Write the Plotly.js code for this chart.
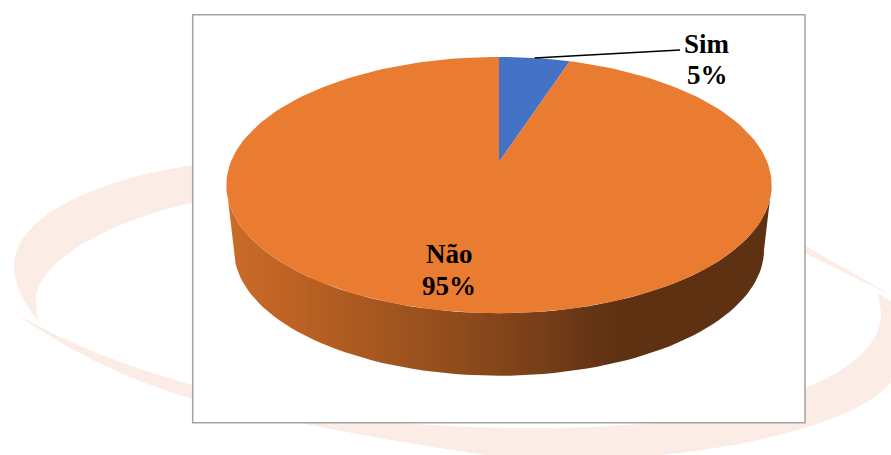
<!DOCTYPE html>
<html>
<head>
<meta charset="utf-8">
<script src="https://cdn.plot.ly/plotly-3.0.1.min.js"></script>
<style>html,body{margin:0;padding:0;background:#fff}#chart{width:891px;height:455px}</style>
</head>
<body>
<div id="chart"></div>
<script>
// Data
const categories = ['Sim', 'Não'];
const values = [5, 95];
const sliceColors = ['#4472c4', '#ea7c31'];

// Pie projection settings (pixel-space axes; perspective like the tilted 3D pie)
const TILT = 0.18;
const topFace = {cx: 499, cy: 162, sx: 268.2, sy: 124};
const bottomFace = {cx: 499, cy: 227, sx: 260.7, sy: 122};

function project(face, deg) {
  const t = deg * Math.PI / 180, X = Math.sin(t), Y = Math.cos(t), d = 1 + TILT * Y;
  return [face.cx + face.sx * X / d, face.cy - face.sy * Y / d];
}
function arc(face, from, to) {
  const pts = [], n = Math.max(2, Math.ceil(Math.abs(to - from) / 2));
  for (let i = 0; i <= n; i++) pts.push(project(face, from + (to - from) * i / n));
  return pts;
}

const total = values.reduce((a, b) => a + b, 0);
const traces = [];

// Visible side wall
const edge = Math.acos(-TILT) * 180 / Math.PI;
const side = arc(topFace, edge, 360 - edge).concat(arc(bottomFace, 360 - edge, edge));
side.push(side[0]);
traces.push({
  x: side.map(p => p[0]), y: side.map(p => p[1]),
  mode: 'lines', line: {width: 0}, fill: 'toself',
  fillgradient: {type: 'horizontal', colorscale: [
    [0, '#cb6d29'], [0.12, '#bd6224'], [0.3, '#a2561f'], [0.5, '#84451a'],
    [0.68, '#643416'], [0.72, '#5e3113'], [1, '#5e3113']]},
  hoverinfo: 'skip', showlegend: false
});

// Top-face slices, clockwise from 12 o'clock
let start = 0;
const mids = [];
values.forEach((v, i) => {
  const end = start + v / total * 360;
  const pts = [[topFace.cx, topFace.cy]].concat(arc(topFace, start, end));
  pts.push(pts[0]);
  traces.push({
    x: pts.map(p => p[0]), y: pts.map(p => p[1]), name: categories[i],
    mode: 'lines', line: {width: 0}, fill: 'toself', fillcolor: sliceColors[i],
    hoverinfo: 'skip', showlegend: false
  });
  mids.push((start + end) / 2);
  start = end;
});

// Leader line from the Sim slice to its label
const anchor = project(topFace, mids[0]);
traces.push({
  x: [anchor[0], 680], y: [anchor[1], 50],
  mode: 'lines', line: {color: '#000', width: 1.4},
  hoverinfo: 'skip', showlegend: false
});

// Labels
const labelPos = [{x: 707, y1: 43.5, y2: 74.5}, {x: 449, y1: 254, y2: 285.5}];
const labelFont = {family: '"Liberation Serif", "Times New Roman", serif', size: 27, color: '#000'};
const annotations = [];
categories.forEach((c, i) => {
  annotations.push({x: labelPos[i].x, y: labelPos[i].y1, text: '<b>' + c + '</b>', showarrow: false, font: labelFont, xref: 'x', yref: 'y'});
  annotations.push({x: labelPos[i].x, y: labelPos[i].y2, text: '<b>' + values[i] + '%</b>', showarrow: false, font: labelFont, xref: 'x', yref: 'y'});
});

// Background swoosh and chart frame
const swoosh = '#fcece6';
const shapes = [
  {type: 'path', layer: 'below', fillcolor: swoosh, line: {width: 0},
   path: 'M 200,164 C 100,178 14,215 14,267 C 14,285 25,305 38,320 C 36,310 36,305 36,300 C 36,265 100,222 200,201 Z'},
  {type: 'path', layer: 'below', fillcolor: swoosh, line: {width: 0},
   path: 'M 15,313 C 70,345 130,368 200,387 L 300,410 C 340,418 425,428 527,428 C 650,428 730,418 805,388 C 850,370 881,345 881,313 L 878,293 L 891,301 L 891,382 C 860,420 760,445 660,455 L 486,455 C 380,440 280,420 193,399 C 120,378 60,345 15,313 Z'},
  {type: 'path', layer: 'below', fillcolor: swoosh, line: {width: 0},
   path: 'M 790,237 L 891,295 L 790,246 Z'},
  {type: 'rect', layer: 'below', x0: 192.7, x1: 805, y0: 14.7, y1: 422.7,
   fillcolor: '#ffffff', line: {color: '#a3a3a3', width: 1.5}}
];

const layout = {
  width: 891, height: 455,
  margin: {l: 0, r: 0, t: 0, b: 0},
  paper_bgcolor: '#ffffff', plot_bgcolor: 'rgba(0,0,0,0)',
  xaxis: {range: [0, 891], visible: false, fixedrange: true},
  yaxis: {range: [455, 0], visible: false, fixedrange: true},
  showlegend: false, hovermode: false,
  shapes: shapes, annotations: annotations
};
Plotly.newPlot('chart', traces, layout, {displayModeBar: false, staticPlot: true});
</script>
</body>
</html>
